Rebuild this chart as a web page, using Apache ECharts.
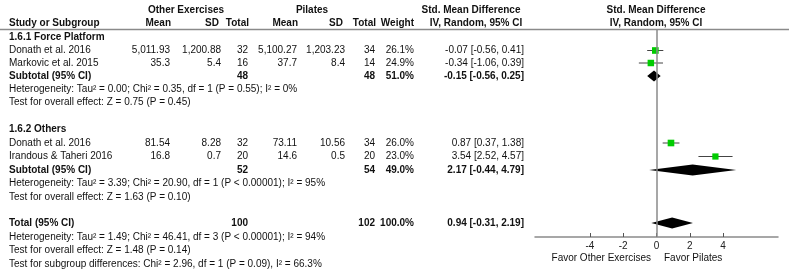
<!DOCTYPE html>
<html>
<head>
<meta charset="utf-8">
<script src="https://cdn.jsdelivr.net/npm/echarts@6/dist/echarts.min.js"></script>
<style>
  html, body { margin: 0; padding: 0; background: #fff; }
  #chart { width: 789px; height: 273px; }
</style>
</head>
<body>
<div id="chart"></div>
<script>
// studies
var studyNames = ['Donath et al. 2016', 'Markovic et al. 2015', 'Donath et al. 2016', 'Irandous & Taheri 2016'];
var otherMean = [5011.93, 35.3, 81.54, 16.8];
var otherSD = [1200.88, 5.4, 8.28, 0.7];
var otherN = [32, 16, 32, 20];
var pilMean = [5100.27, 37.7, 73.11, 14.6];
var pilSD = [1203.23, 8.4, 10.56, 0.5];
var pilN = [34, 14, 34, 20];
var weights = [26.1, 24.9, 26.0, 23.0];
var smd = [-0.07, -0.34, 0.87, 3.54];
var ciLow = [-0.56, -1.06, 0.37, 2.52];
var ciHigh = [0.41, 0.39, 1.38, 4.57];

// subtotals + total
var groupNames = ['1.6.1 Force Platform', '1.6.2 Others'];
var pooledNames = ['Subtotal (95% CI)', 'Subtotal (95% CI)', 'Total (95% CI)'];
var pooledOtherN = [48, 52, 100];
var pooledPilN = [48, 54, 102];
var pooledWeight = [51.0, 49.0, 100.0];
var pooledSmd = [-0.15, 2.17, 0.94];
var pooledLow = [-0.56, -0.44, -0.31];
var pooledHigh = [0.25, 4.79, 2.19];

var hetTexts = [
    'Heterogeneity: Tau\u00b2 = 0.00; Chi\u00b2 = 0.35, df = 1 (P = 0.55); I\u00b2 = 0%',
    'Heterogeneity: Tau\u00b2 = 3.39; Chi\u00b2 = 20.90, df = 1 (P < 0.00001); I\u00b2 = 95%',
    'Heterogeneity: Tau\u00b2 = 1.49; Chi\u00b2 = 46.41, df = 3 (P < 0.00001); I\u00b2 = 94%'
];
var effectTexts = [
    'Test for overall effect: Z = 0.75 (P = 0.45)',
    'Test for overall effect: Z = 1.63 (P = 0.10)',
    'Test for overall effect: Z = 1.48 (P = 0.14)'
];
var subgroupText = 'Test for subgroup differences: Chi\u00b2 = 2.96, df = 1 (P = 0.09), I\u00b2 = 66.3%';

var xTicks = [-4, -2, 0, 2, 4];
var favorLeft = 'Favor Other Exercises';
var favorRight = 'Favor Pilates';

// layout (pixel rows)
var studyRowY = [50.5, 63, 143, 156.5];
var pooledRowY = [76, 170, 223];
var groupRowY = [37, 129];
var hetRowY = [89.5, 183.5, 237];
var effectRowY = [102.5, 197, 250.5];
var subgroupRowY = 264;
var colX = { name: 9, oMean: 170, oSD: 221, oN: 248, pMean: 297, pSD: 345, pN: 375, w: 414, ci: 524 };

function num(v) {
    return v.toLocaleString('en-US', { maximumFractionDigits: 2 });
}
function ciText(e, l, h) {
    return e.toFixed(2) + ' [' + l.toFixed(2) + ', ' + h.toFixed(2) + ']';
}

var FONT = '"Liberation Sans", Arial, sans-serif';
var graphics = [];
function txt(x, y, s, align, bold) {
    graphics.push({
        type: 'text', x: x, y: y, silent: true,
        style: {
            text: s, fill: '#111', font: (bold ? 'bold ' : '') + '10px ' + FONT,
            textAlign: align || 'left', textVerticalAlign: 'middle'
        }
    });
}

// headers
txt(186, 10, 'Other Exercises', 'center', true);
txt(312, 10, 'Pilates', 'center', true);
txt(471, 10, 'Std. Mean Difference', 'center', true);
txt(656, 10, 'Std. Mean Difference', 'center', true);
txt(colX.name, 23, 'Study or Subgroup', 'left', true);
txt(colX.oMean + 1, 23, 'Mean', 'right', true);
txt(colX.oSD - 2, 23, 'SD', 'right', true);
txt(colX.oN + 1, 23, 'Total', 'right', true);
txt(colX.pMean + 1, 23, 'Mean', 'right', true);
txt(colX.pSD - 2, 23, 'SD', 'right', true);
txt(colX.pN + 1, 23, 'Total', 'right', true);
txt(colX.w, 23, 'Weight', 'right', true);
txt(476, 23, 'IV, Random, 95% CI', 'center', true);
txt(656, 23, 'IV, Random, 95% CI', 'center', true);
graphics.push({
    type: 'line', silent: true,
    shape: { x1: 0, y1: 29.5, x2: 789, y2: 29.5 },
    style: { stroke: '#8a8a8a', lineWidth: 1.5 }
});

groupNames.forEach(function (g, i) { txt(colX.name, groupRowY[i], g, 'left', true); });

studyNames.forEach(function (n, i) {
    var y = studyRowY[i];
    txt(colX.name, y, n);
    txt(colX.oMean, y, num(otherMean[i]), 'right');
    txt(colX.oSD, y, num(otherSD[i]), 'right');
    txt(colX.oN, y, String(otherN[i]), 'right');
    txt(colX.pMean, y, num(pilMean[i]), 'right');
    txt(colX.pSD, y, num(pilSD[i]), 'right');
    txt(colX.pN, y, String(pilN[i]), 'right');
    txt(colX.w, y, weights[i].toFixed(1) + '%', 'right');
    txt(colX.ci, y, ciText(smd[i], ciLow[i], ciHigh[i]), 'right');
});

pooledNames.forEach(function (n, i) {
    var y = pooledRowY[i];
    txt(colX.name, y, n, 'left', true);
    txt(colX.oN, y, String(pooledOtherN[i]), 'right', true);
    txt(colX.pN, y, String(pooledPilN[i]), 'right', true);
    txt(colX.w, y, pooledWeight[i].toFixed(1) + '%', 'right', true);
    txt(colX.ci, y, ciText(pooledSmd[i], pooledLow[i], pooledHigh[i]), 'right', true);
});

hetTexts.forEach(function (t, i) { txt(colX.name, hetRowY[i], t); });
effectTexts.forEach(function (t, i) { txt(colX.name, effectRowY[i], t); });
txt(colX.name, subgroupRowY, subgroupText);

txt(651, 258, favorLeft, 'right');
txt(664, 258, favorRight, 'left');

var studyData = studyNames.map(function (n, i) {
    return [smd[i], studyRowY[i], ciLow[i], ciHigh[i], weights[i]];
});
var pooledData = pooledNames.map(function (n, i) {
    return [pooledSmd[i], pooledRowY[i], pooledLow[i], pooledHigh[i]];
});

var chart = echarts.init(document.getElementById('chart'), null, { renderer: 'canvas' });
chart.setOption({
    animation: false,
    grid: { left: 535, right: 11, top: 29.5, bottom: 36 },
    xAxis: {
        type: 'value', min: -7.3, max: 7.3,
        splitLine: { show: false },
        axisLine: { lineStyle: { color: '#8a8a8a', width: 1.5 } },
        axisTick: { inside: true, length: 4, customValues: xTicks, lineStyle: { color: '#555', width: 1 } },
        axisLabel: { customValues: xTicks, margin: 4, fontSize: 10, fontFamily: FONT, color: '#222' }
    },
    yAxis: { type: 'value', min: 29.5, max: 237, inverse: true, show: false },
    series: [
        {
            type: 'custom',
            data: studyData,
            renderItem: function (params, api) {
                var c = api.coord([api.value(0), api.value(1)]);
                var a = api.coord([api.value(2), api.value(1)]);
                var b = api.coord([api.value(3), api.value(1)]);
                var s = Math.sqrt(api.value(4)) * 1.3;
                return {
                    type: 'group',
                    children: [
                        { type: 'line', shape: { x1: a[0], y1: c[1], x2: b[0], y2: c[1] }, style: { stroke: '#444', lineWidth: 1 } },
                        { type: 'rect', shape: { x: c[0] - s / 2, y: c[1] - s / 2, width: s, height: s }, style: { fill: '#0c0' } }
                    ]
                };
            },
            markLine: {
                silent: true, symbol: 'none', label: { show: false },
                lineStyle: { color: '#8a8a8a', width: 1.5, type: 'solid' },
                data: [{ xAxis: 0 }]
            }
        },
        {
            type: 'custom',
            data: pooledData,
            renderItem: function (params, api) {
                var c = api.coord([api.value(0), api.value(1)]);
                var a = api.coord([api.value(2), api.value(1)]);
                var b = api.coord([api.value(3), api.value(1)]);
                var h = 5.5;
                return {
                    type: 'polygon',
                    shape: { points: [[a[0], c[1]], [c[0], c[1] - h], [b[0], c[1]], [c[0], c[1] + h]] },
                    style: { fill: '#000' }
                };
            }
        }
    ],
    graphic: graphics
});
</script>
</body>
</html>
